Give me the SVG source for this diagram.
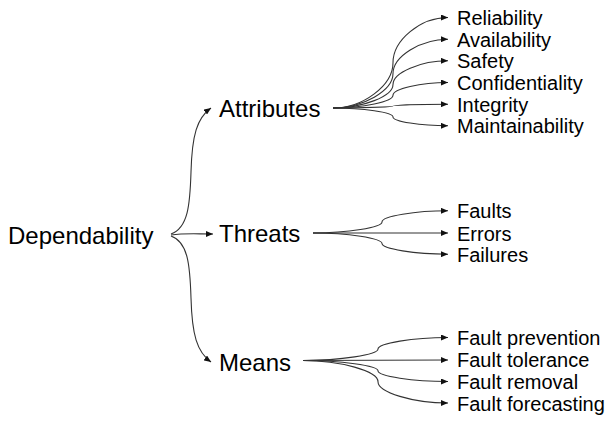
<svg xmlns="http://www.w3.org/2000/svg" width="614" height="421" viewBox="0 0 614 421">
<defs>
<marker id="ah" markerUnits="userSpaceOnUse" markerWidth="8" markerHeight="6" refX="7" refY="3" orient="auto">
<path d="M0,0 L7,3 L0,6 z" fill="#111"/>
</marker>
<style>
.c{fill:none;stroke:#333;stroke-width:1.1;marker-end:url(#ah)}
.t{font-family:"Liberation Sans",Arial,sans-serif;fill:#000}
.m{font-size:24px}
.l{font-size:20px}
</style>
</defs>
<rect width="614" height="421" fill="#fff"/>
<g id="connectors">
<path class="c" d="M171,234 C188,228 190,205 191,172 C192,135 197,118 211,108"/>
<path class="c" d="M171,235 C185,233 196,234 213,234"/>
<path class="c" d="M171,236 C188,242 190,265 191,298 C192,335 197,352 211,362"/>
<path class="c" d="M333,108 C363,108 393,85.4 393,62.75 C393,40.1 420.5,17.5 448,17.5"/>
<path class="c" d="M333,108 C363,108 393,90.8 393,73.6 C393,56.4 420.5,39.2 448,39.2"/>
<path class="c" d="M333,108 C363,108 393,96.2 393,84.4 C393,72.6 420.5,60.8 448,60.8"/>
<path class="c" d="M333,108 C363,108 393,101.6 393,95.25 C393,88.9 420.5,82.5 448,82.5"/>
<path class="c" d="M333,108 C363,108 393,107 393,106.1 C393,105.2 420.5,104.2 448,104.2"/>
<path class="c" d="M333,108 C363,108 393,112.45 393,116.9 C393,121.35 420.5,125.8 448,125.8"/>
<path class="c" d="M313,233 C347.5,233 382,227.45 382,221.9 C382,216.35 415,210.8 448,210.8"/>
<path class="c" d="M313,233 L448,233"/>
<path class="c" d="M313,233 C347.5,233 382,238.3 382,243.6 C382,248.9 415,254.2 448,254.2"/>
<path class="c" d="M303,360.5 C340.5,360.5 378,354.75 378,349 C378,343.25 413,337.5 448,337.5"/>
<path class="c" d="M303,360.5 L448,360"/>
<path class="c" d="M303,360.5 C340.5,360.5 378,365.75 378,370.75 C378,376.25 413,381.5 448,381.5"/>
<path class="c" d="M303,360.5 C340.5,360.5 378,371.1 378,381.75 C378,392.4 413,403 448,403"/>
</g>
<g id="dependability"><text class="t" x="8" y="244" font-size="24">Dependability</text></g>
<g id="attributes"><text class="t m" x="219" y="116.5">Attributes</text></g>
<g id="threats"><text class="t m" x="219" y="241.6">Threats</text></g>
<g id="means"><text class="t m" x="219" y="370.6">Means</text></g>
<g id="reliability"><text class="t l" x="457" y="25">Reliability</text></g>
<g id="availability"><text class="t l" x="457" y="46.7">Availability</text></g>
<g id="safety"><text class="t l" x="457" y="68.3">Safety</text></g>
<g id="confidentiality"><text class="t l" x="457" y="90">Confidentiality</text></g>
<g id="integrity"><text class="t l" x="457" y="111.7">Integrity</text></g>
<g id="maintainability"><text class="t l" x="457" y="133.3">Maintainability</text></g>
<g id="faults"><text class="t l" x="457" y="218.3">Faults</text></g>
<g id="errors"><text class="t l" x="457" y="240.5">Errors</text></g>
<g id="failures"><text class="t l" x="457" y="261.7">Failures</text></g>
<g id="fault-prevention"><text class="t l" x="457" y="345">Fault prevention</text></g>
<g id="fault-tolerance"><text class="t l" x="457" y="367.3">Fault tolerance</text></g>
<g id="fault-removal"><text class="t l" x="457" y="389">Fault removal</text></g>
<g id="fault-forecasting"><text class="t l" x="457" y="410.5">Fault forecasting</text></g>
</svg>
